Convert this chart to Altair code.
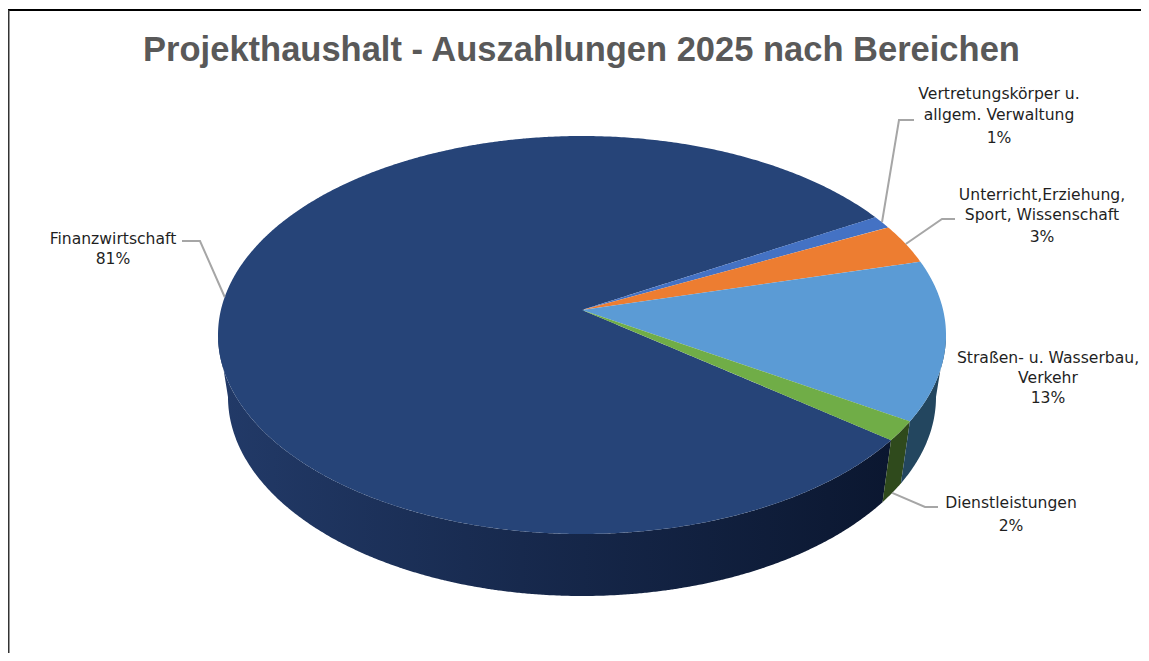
import math
import altair as alt
import pandas as pd

# --- values ---
categories = ["Vertretungskörper u. allgem. Verwaltung", "Unterricht,Erziehung, Sport, Wissenschaft",
              "Straßen- u. Wasserbau, Verkehr", "Dienstleistungen", "Finanzwirtschaft"]
shares = [1.05, 3.25, 13.0, 1.6, 81.1]
top_colors = ["#4472C4", "#ED7D31", "#5B9BD5", "#70AD47", "#264478"]
label_lines = [
    ["Vertretungskörper u.", "allgem. Verwaltung", "1%"],
    ["Unterricht,Erziehung,", "Sport, Wissenschaft", "3%"],
    ["Straßen- u. Wasserbau,", "Verkehr", "13%"],
    ["Dienstleistungen", "2%"],
    ["Finanzwirtschaft", "81%"],
]
title_text = "Projekthaushalt - Auszahlungen 2025 nach Bereichen"

# --- layout ---
W, H = 1133, 643
X0, Y0 = 8, 10
FIRST_ANGLE = 59.8
CX, CY, RX, RY = 582, 335, 364, 199
CY2, RX2, RY2 = 397, 354, 199
PERSP = 0.126
STEP = 0.5
label_centers = [(999, [94, 115, 138]), (1042, [195, 215, 237]), (1048, [358, 378, 398]),
                 (1011, [503, 526]), (113, [239, 259])]
leader_elbows = {0: [(899, 120), (914, 120)], 1: [(942, 219), (955, 219)],
                 3: [(925, 507), (938, 507)], 4: [(200, 241), (182, 241)]}


def pt(theta, cy=CY, rx=RX, ry=RY):
    t = math.radians(theta)
    u0, v0 = math.sin(t), math.cos(t)
    d = 1 + PERSP * v0
    return (CX + rx * u0 * math.sqrt(1 - PERSP ** 2) / d, cy - ry * (v0 + PERSP) / d)


def arc(a, b, **kw):
    n = max(2, int(abs(b - a) / STEP))
    return [pt(a + (b - a) * i / n, **kw) for i in range(n + 1)]


def to_area(poly):
    xs = sorted({round(p[0], 2) for p in poly})
    rows = []
    m = len(poly)
    for x in xs:
        ys = []
        for i in range(m):
            (x1, y1), (x2, y2) = poly[i], poly[(i + 1) % m]
            lo, hi = min(x1, x2) - 0.006, max(x1, x2) + 0.006
            if lo <= x <= hi:
                if abs(x2 - x1) < 1e-6:
                    ys += [y1, y2]
                else:
                    f = min(1, max(0, (x - x1) / (x2 - x1)))
                    ys.append(y1 + f * (y2 - y1))
        rows.append({"x": x, "y": min(ys), "y2": max(ys)})
    return pd.DataFrame(rows)


xenc = alt.X("x:Q", axis=None, scale=alt.Scale(domain=[X0, X0 + W], nice=False, zero=False))
yenc = alt.Y("y:Q", axis=None, scale=alt.Scale(domain=[Y0 + H, Y0], nice=False, zero=False))


def area(poly, color):
    return alt.Chart(to_area(poly)).mark_area(color=color, interpolate="linear", line=False).encode(
        x=xenc, y=yenc, y2="y2:Q")


# wedge boundaries from the shares
edges = [FIRST_ANGLE]
for s in shares:
    edges.append(edges[-1] + s * 3.6)
apex = (CX, CY - RY * PERSP)
th_right = math.degrees(math.acos(-PERSP))
th_left = 360 - th_right
th_bottom = 180
th_top = 360


def wall(a, b):
    return arc(a, b) + arc(b, a, cy=CY2, rx=RX2, ry=RY2)


navy = alt.Gradient(gradient="linear", x1=0, x2=1, y1=0, y2=0,
                    stops=[alt.GradientStop(offset=0, color="#223A68"),
                           alt.GradientStop(offset=0.45, color="#17294D"),
                           alt.GradientStop(offset=1, color="#0B1730")])
layers = [
    area(wall(edges[4], th_left), navy),
    area(wall(edges[3], edges[4]), "#2F4A1C"),
    area(wall(th_right, edges[3]), "#23465F"),
]
# large slice cut into three x-monotone parts
layers += [
    area(arc(th_bottom - 0.3, th_top + 0.3), top_colors[4]),
    area([apex, (CX, CY - RY)] + arc(0, edges[0]), top_colors[4]),
    area([apex] + arc(edges[4], th_bottom), top_colors[4]),
]
for i in range(4):
    layers.append(area([apex] + arc(edges[i], edges[i + 1]), top_colors[i]))

# leaders
rows = []
for i, elbow in leader_elbows.items():
    mid = (edges[i] + edges[i + 1]) / 2
    start = pt(mid, cy=CY2, rx=RX2, ry=RY2) if i == 3 else pt(mid)
    for k, (x, y) in enumerate([start] + elbow):
        rows.append({"x": x, "y": y, "leader": i, "o": k})
layers.append(alt.Chart(pd.DataFrame(rows)).mark_line(color="#A6A6A6", strokeWidth=2).encode(
    x=xenc, y=yenc, detail="leader:N", order="o:Q"))

# labels
txt = []
for lines, (cx, ys) in zip(label_lines, label_centers):
    for line, y in zip(lines, ys):
        txt.append({"x": cx, "y": y, "t": line})
layers.append(alt.Chart(pd.DataFrame(txt)).mark_text(
    font="DejaVu Sans", fontSize=15.6, color="#1F1F1F", align="center", baseline="middle").encode(
    x=xenc, y=yenc, text="t:N"))

# frame
layers.append(alt.Chart(pd.DataFrame({"x": [X0], "x2": [X0 + W], "y": [Y0]})).mark_rule(
    color="#000000", strokeWidth=2).encode(x=xenc, x2="x2:Q", y=yenc))
layers.append(alt.Chart(pd.DataFrame({"x": [X0], "y": [Y0], "y2": [Y0 + H]})).mark_rule(
    color="#333333", strokeWidth=3).encode(x=xenc, y=yenc, y2="y2:Q"))

chart = alt.layer(*layers).properties(
    width=W, height=H, padding={"left": 0, "top": 2, "right": 0, "bottom": 0},
    autosize=alt.AutoSizeParams(type="none"),
    title=alt.TitleParams(title_text, font="Liberation Sans", fontSize=34.5, fontWeight="bold",
                          color="#595959", anchor="middle", frame="group", dx=7, dy=60, offset=0),
    background="white",
).configure_view(stroke=None)

chart.save("out.html", embed_options={"renderer": "svg", "actions": False})
